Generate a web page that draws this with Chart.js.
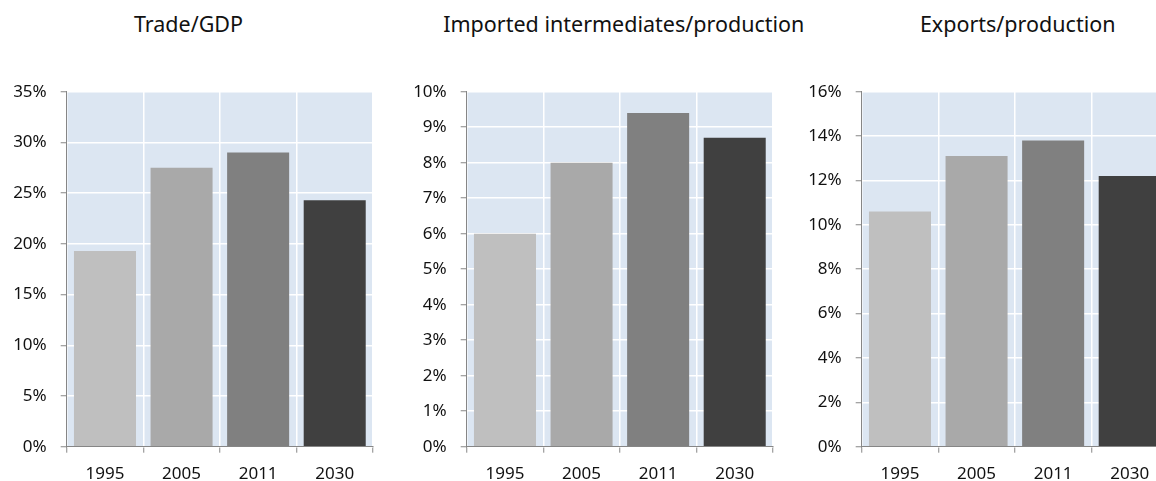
<!DOCTYPE html>
<html>
<head>
<meta charset="utf-8">
<script src="https://cdn.jsdelivr.net/npm/chart.js@4/dist/chart.umd.min.js"></script>
<style>
  html, body { margin: 0; padding: 0; background: #fff; overflow: hidden; width: 1156px; height: 481px; }
  .title { position: absolute; top: 13px; width: 400px; text-align: center; font-family: "Noto Sans", sans-serif; font-size: 21.5px; line-height: 21.5px; color: #111; white-space: nowrap; }
  canvas { position: absolute; top: 0; }
</style>
</head>
<body>
<div class="title" id="t0"></div>
<div class="title" id="t1"></div>
<div class="title" id="t2"></div>
<canvas id="c0" width="380" height="500"></canvas>
<canvas id="c1" width="380" height="500"></canvas>
<canvas id="c2" width="380" height="500"></canvas>
<script>
// values, in percent
const years = ['1995', '2005', '2011', '2030'];
const tradeGdp = [19.3, 27.5, 29.0, 24.3];
const importedIntermediates = [6.0, 8.0, 9.4, 8.7];
const exportsProduction = [10.6, 13.1, 13.8, 12.2];
const titles = ['Trade/GDP', 'Imported intermediates/production', 'Exports/production'];
const axisMax = [35, 10, 16];
const axisStep = [5, 1, 2];

const barColors = ['#bfbfbf', '#a9a9a9', '#808080', '#404040'];
const panelLeft = [0, 400, 795];
const titleCenter = [188.5, 623.8, 1017.7];

const plotBg = {
  id: 'plotBg',
  beforeDraw(chart) {
    const a = chart.chartArea;
    const ctx = chart.ctx;
    ctx.save();
    ctx.fillStyle = '#dce6f2';
    ctx.fillRect(a.left, a.top, a.right - a.left, a.bottom - a.top);
    ctx.restore();
  }
};

function makePanel(i, values) {
  const t = document.getElementById('t' + i);
  t.textContent = titles[i];
  t.style.left = (titleCenter[i] - 200) + 'px';

  const cv = document.getElementById('c' + i);
  cv.style.left = panelLeft[i] + 'px';

  new Chart(cv, {
    type: 'bar',
    data: {
      labels: years,
      datasets: [{
        data: values,
        backgroundColor: barColors,
        borderWidth: 0,
        barPercentage: 1,
        categoryPercentage: 0.81
      }]
    },
    options: {
      responsive: false,
      animation: false,
      devicePixelRatio: 1,
      layout: { padding: { top: 91.7, right: 7, bottom: 0, left: 0 } },
      plugins: { legend: { display: false }, tooltip: { enabled: false } },
      scales: {
        x: {
          afterFit: s => { s.height = 500 - 446.7; },
          grid: { color: '#ffffff', lineWidth: 1.5, tickColor: '#868686', tickLength: 6, tickWidth: 1 },
          border: { color: '#868686', width: 1 },
          ticks: { color: '#111', padding: 11, font: { family: 'Noto Sans', size: 17 } }
        },
        y: {
          min: 0,
          max: axisMax[i],
          afterFit: s => { s.width = 66.7; },
          grid: { color: '#ffffff', lineWidth: 1.5, tickColor: '#868686', tickLength: 6, tickWidth: 1 },
          border: { color: '#868686', width: 1 },
          ticks: {
            stepSize: axisStep[i],
            autoSkip: false,
            color: '#111',
            padding: 14,
            font: { family: 'Noto Sans', size: 17 },
            callback: v => v + '%'
          }
        }
      }
    },
    plugins: [plotBg]
  });
}

makePanel(0, tradeGdp);
makePanel(1, importedIntermediates);
makePanel(2, exportsProduction);
</script>
</body>
</html>
